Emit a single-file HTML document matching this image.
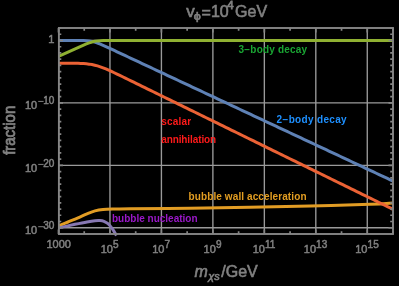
<!DOCTYPE html>
<html><head><meta charset="utf-8"><style>
html,body{margin:0;padding:0;background:#000;font-family:"Liberation Sans",sans-serif;width:399px;height:286px;overflow:hidden;}
svg{position:absolute;left:0;top:0;display:block;will-change:transform;}
</style></head><body>
<svg width="399" height="286" viewBox="0 0 399 286"><path d="M109.96,28.0 V234.0 M161.42,28.0 V234.0 M212.88,28.0 V234.0 M264.35,28.0 V234.0 M315.81,28.0 V234.0 M367.27,28.0 V234.0 M58.5,40.48 H393.0 M58.5,102.91 H393.0 M58.5,165.33 H393.0 M58.5,227.76 H393.0" stroke="#9a9a9a" stroke-width="1.35" fill="none"/><path d="M58.50,40.50 L61.29,40.50 L64.08,40.50 L66.86,40.50 L69.65,40.50 L72.44,40.50 L75.22,40.51 L78.01,40.52 L80.80,40.55 L83.59,40.61 L86.38,40.73 L89.16,40.97 L91.95,41.41 L94.74,42.09 L97.53,43.02 L100.31,44.12 L103.10,45.32 L105.89,46.58 L108.67,47.86 L111.46,49.16 L114.25,50.46 L117.04,51.77 L119.83,53.07 L122.61,54.38 L125.40,55.68 L128.19,56.99 L130.97,58.30 L133.76,59.60 L136.55,60.91 L139.34,62.21 L142.12,63.52 L144.91,64.83 L147.70,66.13 L150.49,67.44 L153.28,68.74 L156.06,70.05 L158.85,71.36 L161.64,72.66 L164.43,73.97 L167.21,75.28 L170.00,76.58 L172.79,77.89 L175.57,79.19 L178.36,80.50 L181.15,81.81 L183.94,83.11 L186.72,84.42 L189.51,85.73 L192.30,87.03 L195.09,88.34 L197.88,89.64 L200.66,90.95 L203.45,92.26 L206.24,93.56 L209.03,94.87 L211.81,96.18 L214.60,97.48 L217.39,98.79 L220.18,100.09 L222.96,101.40 L225.75,102.71 L228.54,104.01 L231.32,105.32 L234.11,106.63 L236.90,107.93 L239.69,109.24 L242.47,110.54 L245.26,111.85 L248.05,113.16 L250.84,114.46 L253.62,115.77 L256.41,117.08 L259.20,118.38 L261.99,119.69 L264.77,120.99 L267.56,122.30 L270.35,123.61 L273.14,124.91 L275.93,126.22 L278.71,127.52 L281.50,128.83 L284.29,130.14 L287.07,131.44 L289.86,132.75 L292.65,134.06 L295.44,135.36 L298.23,136.67 L301.01,137.97 L303.80,139.28 L306.59,140.59 L309.38,141.89 L312.16,143.20 L314.95,144.51 L317.74,145.81 L320.52,147.12 L323.31,148.42 L326.10,149.73 L328.89,151.04 L331.68,152.34 L334.46,153.65 L337.25,154.96 L340.04,156.26 L342.82,157.57 L345.61,158.87 L348.40,160.18 L351.19,161.49 L353.98,162.79 L356.76,164.10 L359.55,165.41 L362.34,166.71 L365.12,168.02 L367.91,169.32 L370.70,170.63 L373.49,171.94 L376.27,173.24 L379.06,174.55 L381.85,175.86 L384.64,177.16 L387.43,178.47 L390.21,179.77 L393.00,181.08" stroke="#5e81b5" stroke-width="3.0" fill="none"/><path d="M58.50,56.47 L61.29,55.20 L64.08,53.93 L66.86,52.67 L69.65,51.40 L72.44,50.13 L75.22,48.87 L78.01,47.60 L80.80,46.35 L83.59,45.12 L86.38,43.94 L89.16,42.86 L91.95,41.95 L94.74,41.29 L97.53,40.89 L100.31,40.68 L103.10,40.58 L105.89,40.53 L108.67,40.51 L111.46,40.51 L114.25,40.50 L117.04,40.50 L119.83,40.50 L122.61,40.50 L125.40,40.50 L128.19,40.50 L130.97,40.50 L133.76,40.50 L136.55,40.50 L139.34,40.50 L142.12,40.50 L144.91,40.50 L147.70,40.50 L150.49,40.50 L153.28,40.50 L156.06,40.50 L158.85,40.50 L161.64,40.50 L164.43,40.50 L167.21,40.50 L170.00,40.50 L172.79,40.50 L175.57,40.50 L178.36,40.50 L181.15,40.50 L183.94,40.50 L186.72,40.50 L189.51,40.50 L192.30,40.50 L195.09,40.50 L197.88,40.50 L200.66,40.50 L203.45,40.50 L206.24,40.50 L209.03,40.50 L211.81,40.50 L214.60,40.50 L217.39,40.50 L220.18,40.50 L222.96,40.50 L225.75,40.50 L228.54,40.50 L231.32,40.50 L234.11,40.50 L236.90,40.50 L239.69,40.50 L242.47,40.50 L245.26,40.50 L248.05,40.50 L250.84,40.50 L253.62,40.50 L256.41,40.50 L259.20,40.50 L261.99,40.50 L264.77,40.50 L267.56,40.50 L270.35,40.50 L273.14,40.50 L275.93,40.50 L278.71,40.50 L281.50,40.50 L284.29,40.50 L287.07,40.50 L289.86,40.50 L292.65,40.50 L295.44,40.50 L298.23,40.50 L301.01,40.50 L303.80,40.50 L306.59,40.50 L309.38,40.50 L312.16,40.50 L314.95,40.50 L317.74,40.50 L320.52,40.50 L323.31,40.50 L326.10,40.50 L328.89,40.50 L331.68,40.50 L334.46,40.50 L337.25,40.50 L340.04,40.50 L342.82,40.50 L345.61,40.50 L348.40,40.50 L351.19,40.50 L353.98,40.50 L356.76,40.50 L359.55,40.50 L362.34,40.50 L365.12,40.50 L367.91,40.50 L370.70,40.50 L373.49,40.50 L376.27,40.50 L379.06,40.50 L381.85,40.50 L384.64,40.50 L387.43,40.50 L390.21,40.50 L393.00,40.50" stroke="#8fb032" stroke-width="3.0" fill="none"/><path d="M58.50,225.90 C60.08,225.25 64.75,223.33 68.00,222.00 C71.25,220.67 74.83,219.25 78.00,217.90 C81.17,216.55 84.17,215.07 87.00,213.90 C89.83,212.73 92.33,211.63 95.00,210.90 C97.67,210.17 99.67,209.82 103.00,209.50 C106.33,209.18 110.50,209.13 115.00,209.00 C119.50,208.87 117.50,208.83 130.00,208.70 C142.50,208.57 170.00,208.43 190.00,208.20 C210.00,207.97 230.00,207.67 250.00,207.30 C270.00,206.93 290.00,206.50 310.00,206.00 C330.00,205.50 356.17,204.82 370.00,204.30 C383.83,203.78 389.17,203.13 393.00,202.90" stroke="#e19c24" stroke-width="3.0" fill="none"/><path d="M58.50,63.21 L61.29,63.21 L64.08,63.22 L66.86,63.23 L69.65,63.24 L72.44,63.27 L75.22,63.31 L78.01,63.37 L80.80,63.46 L83.59,63.61 L86.38,63.83 L89.16,64.14 L91.95,64.59 L94.74,65.18 L97.53,65.92 L100.31,66.82 L103.10,67.85 L105.89,68.98 L108.67,70.19 L111.46,71.45 L114.25,72.75 L117.04,74.08 L119.83,75.42 L122.61,76.77 L125.40,78.12 L128.19,79.48 L130.97,80.85 L133.76,82.21 L136.55,83.57 L139.34,84.94 L142.12,86.31 L144.91,87.67 L147.70,89.04 L150.49,90.41 L153.28,91.77 L156.06,93.14 L158.85,94.51 L161.64,95.87 L164.43,97.24 L167.21,98.61 L170.00,99.97 L172.79,101.34 L175.57,102.71 L178.36,104.07 L181.15,105.44 L183.94,106.81 L186.72,108.17 L189.51,109.54 L192.30,110.91 L195.09,112.27 L197.88,113.64 L200.66,115.01 L203.45,116.37 L206.24,117.74 L209.03,119.11 L211.81,120.47 L214.60,121.84 L217.39,123.21 L220.18,124.57 L222.96,125.94 L225.75,127.31 L228.54,128.67 L231.32,130.04 L234.11,131.41 L236.90,132.77 L239.69,134.14 L242.47,135.51 L245.26,136.87 L248.05,138.24 L250.84,139.61 L253.62,140.97 L256.41,142.34 L259.20,143.71 L261.99,145.07 L264.77,146.44 L267.56,147.81 L270.35,149.17 L273.14,150.54 L275.93,151.91 L278.71,153.27 L281.50,154.64 L284.29,156.01 L287.07,157.37 L289.86,158.74 L292.65,160.11 L295.44,161.47 L298.23,162.84 L301.01,164.21 L303.80,165.57 L306.59,166.94 L309.38,168.31 L312.16,169.67 L314.95,171.04 L317.74,172.41 L320.52,173.77 L323.31,175.14 L326.10,176.51 L328.89,177.88 L331.68,179.24 L334.46,180.61 L337.25,181.98 L340.04,183.34 L342.82,184.71 L345.61,186.08 L348.40,187.44 L351.19,188.81 L353.98,190.18 L356.76,191.54 L359.55,192.91 L362.34,194.28 L365.12,195.64 L367.91,197.01 L370.70,198.38 L373.49,199.74 L376.27,201.11 L379.06,202.48 L381.85,203.84 L384.64,205.21 L387.43,206.58 L390.21,207.94 L393.00,209.31" stroke="#eb6235" stroke-width="3.0" fill="none"/><path d="M58.50,227.90 C61.25,227.30 70.25,225.30 75.00,224.30 C79.75,223.30 83.67,222.50 87.00,221.90 C90.33,221.30 92.83,220.92 95.00,220.70 C97.17,220.48 98.50,220.48 100.00,220.60 C101.50,220.72 102.67,220.88 104.00,221.40 C105.33,221.92 106.72,222.62 108.00,223.70 C109.28,224.78 110.60,226.47 111.70,227.90 C112.80,229.33 113.80,231.02 114.60,232.30 C115.40,233.58 116.18,235.05 116.50,235.60" stroke="#8778b3" stroke-width="3.0" fill="none"/><path d="M58.50,234.0 v-4.5 M58.50,28.0 v4.5 M84.23,234.0 v-2.8 M84.23,28.0 v2.8 M109.96,234.0 v-4.5 M109.96,28.0 v4.5 M135.69,234.0 v-2.8 M135.69,28.0 v2.8 M161.42,234.0 v-4.5 M161.42,28.0 v4.5 M187.15,234.0 v-2.8 M187.15,28.0 v2.8 M212.88,234.0 v-4.5 M212.88,28.0 v4.5 M238.62,234.0 v-2.8 M238.62,28.0 v2.8 M264.35,234.0 v-4.5 M264.35,28.0 v4.5 M290.08,234.0 v-2.8 M290.08,28.0 v2.8 M315.81,234.0 v-4.5 M315.81,28.0 v4.5 M341.54,234.0 v-2.8 M341.54,28.0 v2.8 M367.27,234.0 v-4.5 M367.27,28.0 v4.5 M393.00,234.0 v-2.8 M393.00,28.0 v2.8 M58.5,234.00 h2.8 M393.0,234.00 h-2.8 M58.5,227.76 h4.5 M393.0,227.76 h-4.5 M58.5,221.52 h2.8 M393.0,221.52 h-2.8 M58.5,215.27 h2.8 M393.0,215.27 h-2.8 M58.5,209.03 h2.8 M393.0,209.03 h-2.8 M58.5,202.79 h2.8 M393.0,202.79 h-2.8 M58.5,196.55 h2.8 M393.0,196.55 h-2.8 M58.5,190.30 h2.8 M393.0,190.30 h-2.8 M58.5,184.06 h2.8 M393.0,184.06 h-2.8 M58.5,177.82 h2.8 M393.0,177.82 h-2.8 M58.5,171.58 h2.8 M393.0,171.58 h-2.8 M58.5,165.33 h4.5 M393.0,165.33 h-4.5 M58.5,159.09 h2.8 M393.0,159.09 h-2.8 M58.5,152.85 h2.8 M393.0,152.85 h-2.8 M58.5,146.61 h2.8 M393.0,146.61 h-2.8 M58.5,140.36 h2.8 M393.0,140.36 h-2.8 M58.5,134.12 h2.8 M393.0,134.12 h-2.8 M58.5,127.88 h2.8 M393.0,127.88 h-2.8 M58.5,121.64 h2.8 M393.0,121.64 h-2.8 M58.5,115.39 h2.8 M393.0,115.39 h-2.8 M58.5,109.15 h2.8 M393.0,109.15 h-2.8 M58.5,102.91 h4.5 M393.0,102.91 h-4.5 M58.5,96.67 h2.8 M393.0,96.67 h-2.8 M58.5,90.42 h2.8 M393.0,90.42 h-2.8 M58.5,84.18 h2.8 M393.0,84.18 h-2.8 M58.5,77.94 h2.8 M393.0,77.94 h-2.8 M58.5,71.70 h2.8 M393.0,71.70 h-2.8 M58.5,65.45 h2.8 M393.0,65.45 h-2.8 M58.5,59.21 h2.8 M393.0,59.21 h-2.8 M58.5,52.97 h2.8 M393.0,52.97 h-2.8 M58.5,46.73 h2.8 M393.0,46.73 h-2.8 M58.5,40.48 h4.5 M393.0,40.48 h-4.5 M58.5,34.24 h2.8 M393.0,34.24 h-2.8 M58.5,28.00 h2.8 M393.0,28.00 h-2.8" stroke="#868686" stroke-width="1.7" fill="none"/><rect x="58.9" y="28.0" width="334.1" height="206.0" stroke="#868686" stroke-width="1.9" fill="none"/><g fill="#808080" stroke="#808080" stroke-width="0.6" font-family="&apos;Liberation Sans&apos;, sans-serif"><text x="186.2" y="16.6" font-size="16" transform="translate(186.2,0) scale(1.06,1) translate(-186.2,0)">v</text><text x="193.8" y="20.2" font-size="11" transform="translate(193.8,0) scale(1.15,1) translate(-193.8,0)">ϕ</text><text x="201.4" y="18.3" font-size="16">=</text><text x="210.9" y="16.6" font-size="16">10</text><text x="227.3" y="9.4" font-size="11.5" stroke-width="0.8">4</text><text x="235.1" y="16.6" font-size="16">GeV</text><text x="48.2" y="43.1" font-size="11" stroke-width="0.5">1</text><text x="25" y="108.8" font-size="11" stroke-width="0.5">10</text><rect x="38.2" y="100.90" width="5.4" height="1.0" stroke="none"/><text x="54.4" y="103.60" font-size="10" text-anchor="end" stroke-width="0.5">10</text><text x="25" y="171.8" font-size="11" stroke-width="0.5">10</text><rect x="38.2" y="163.90" width="5.4" height="1.0" stroke="none"/><text x="54.4" y="166.60" font-size="10" text-anchor="end" stroke-width="0.5">20</text><text x="25" y="234.1" font-size="11" stroke-width="0.5">10</text><rect x="38.2" y="226.20" width="5.4" height="1.0" stroke="none"/><text x="54.4" y="228.90" font-size="10" text-anchor="end" stroke-width="0.5">30</text><text x="58.7" y="247.8" font-size="11" text-anchor="middle" stroke-width="0.5">1000</text><text x="109.66" y="252.8" font-size="11" text-anchor="middle" stroke-width="0.5">10<tspan dx="0.1" dy="-4.9" font-size="10">5</tspan></text><text x="161.12" y="252.8" font-size="11" text-anchor="middle" stroke-width="0.5">10<tspan dx="0.1" dy="-4.9" font-size="10">7</tspan></text><text x="212.58" y="252.8" font-size="11" text-anchor="middle" stroke-width="0.5">10<tspan dx="0.1" dy="-4.9" font-size="10">9</tspan></text><text x="264.05" y="252.8" font-size="11" text-anchor="middle" stroke-width="0.5">10<tspan dx="0.1" dy="-4.9" font-size="10">11</tspan></text><text x="315.51" y="252.8" font-size="11" text-anchor="middle" stroke-width="0.5">10<tspan dx="0.1" dy="-4.9" font-size="10">13</tspan></text><text x="366.97" y="252.8" font-size="11" text-anchor="middle" stroke-width="0.5">10<tspan dx="0.1" dy="-4.9" font-size="10">15</tspan></text><text transform="translate(14.8,130.3) rotate(-90) scale(1,1.1)" x="0" y="0" font-size="15" text-anchor="middle" stroke-width="0.7">fraction</text><text x="194.6" y="276.9" font-size="16" stroke-width="0.6"><tspan font-style="italic">m</tspan><tspan dx="0.3" dy="2.8" font-size="11" font-style="italic">χs</tspan><tspan dx="1.5" dy="-2.8">/GeV</tspan></text></g><g font-weight="bold" font-size="10" font-family="&apos;Liberation Sans&apos;, sans-serif"><text x="238.6" y="53.2" fill="#1aa633" letter-spacing="0.18">3−body decay</text><text x="276.6" y="122.5" fill="#1e90ff" letter-spacing="0.33">2−body decay</text><text x="161.2" y="125.4" fill="#ff1a1a" letter-spacing="0.22">scalar</text><text x="161.2" y="143.4" fill="#ff1a1a" letter-spacing="-0.1">annihilation</text><text x="188.6" y="200.4" fill="#e39e22" letter-spacing="0.1">bubble wall acceleration</text><text x="112.0" y="221.8" fill="#9a18c8">bubble nucleation</text></g></svg>
</body></html>
